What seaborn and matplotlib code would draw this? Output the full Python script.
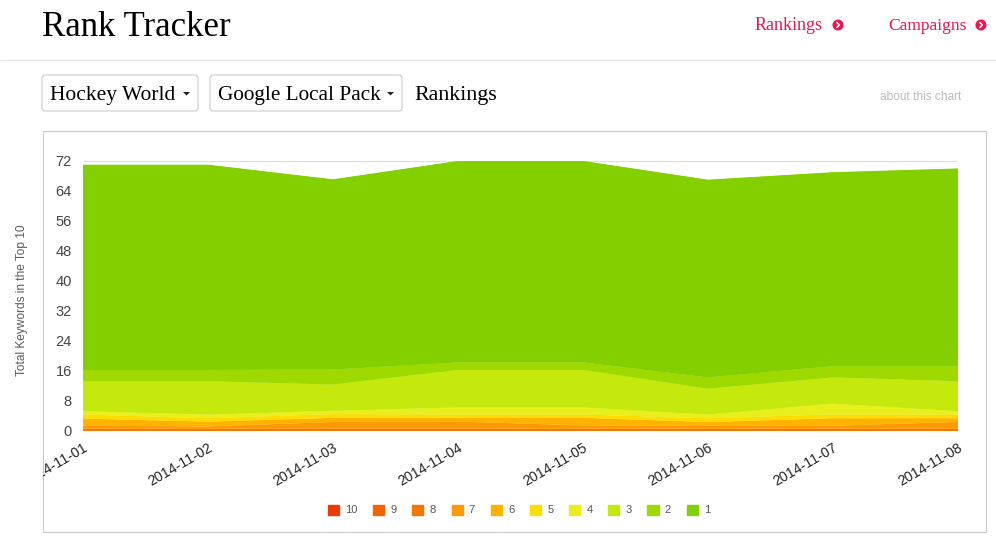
import matplotlib
matplotlib.use("Agg")
import matplotlib.pyplot as plt
from matplotlib.patches import Circle, FancyBboxPatch, Patch, Rectangle, Polygon
from matplotlib.transforms import Bbox
import pandas as pd
import seaborn as sns
import seaborn.objects as so

# values, one list per rank
dates = ["2014-11-01", "2014-11-02", "2014-11-03", "2014-11-04",
         "2014-11-05", "2014-11-06", "2014-11-07", "2014-11-08"]
ranks = ["10", "9", "8", "7", "6", "5", "4", "3", "2", "1"]
rank_10 = [0, 0, 0, 0, 0, 0, 0, 0]
rank_9 = [0, 0, 0, 0, 0, 0, 0, 0]
rank_8 = [0.6, 0.6, 0.6, 0.6, 0.6, 0.6, 0.6, 0.6]
rank_7 = [0.8, 0.6, 1.8, 1.9, 0.9, 0.8, 0.8, 1.8]
rank_6 = [1.9, 1.3, 1.1, 1.0, 2.0, 1.0, 2.0, 1.0]
rank_5 = [1.1, 0.9, 1.0, 0.9, 0.9, 1.0, 1.0, 1.0]
rank_4 = [0.9, 1.0, 0.9, 1.9, 1.9, 1.0, 2.9, 0.9]
rank_3 = [8.0, 8.9, 7.0, 10.0, 10.0, 6.9, 7.0, 8.0]
rank_2 = [3.0, 3.0, 4.0, 2.0, 2.0, 3.0, 3.0, 4.0]
rank_1 = [54.7, 54.7, 50.7, 53.7, 53.7, 52.7, 51.7, 52.7]
y_ticks = [0, 8, 16, 24, 32, 40, 48, 56, 64, 72]
colors = ["#e83c00", "#f56200", "#f77600", "#ff9900", "#ffb300",
          "#ffdd00", "#e8ef1c", "#c6e90d", "#9ed900", "#84cf00"]

series = [rank_10, rank_9, rank_8, rank_7, rank_6, rank_5, rank_4, rank_3, rank_2, rank_1]
df = pd.concat([pd.DataFrame({"date": dates, "rank": r, "count": vals})
                for r, vals in zip(ranks, series)], ignore_index=True)

sns.set_theme(style="white")
plt.rcParams["font.family"] = ["Liberation Sans", "DejaVu Sans"]

W, H = 996, 544
fig = plt.figure(figsize=(W / 100, H / 100), dpi=100, facecolor="white")

# page furniture goes on a full size axes in pixel coordinates
page = fig.add_axes([0, 0, 1, 1], zorder=0)
page.set_xlim(0, W)
page.set_ylim(H, 0)
page.axis("off")

serif = ["Liberation Serif", "DejaVu Serif"]
pink = "#f0134f"


def chevron(x, y):
    page.add_patch(Circle((x, y), 5.5, color=pink, lw=0))
    page.plot([x - 1.2, x + 1.4, x - 1.2], [y - 2.6, y, y + 2.6], color="white", lw=1.1)


def button(x0, x1, label, size):
    page.add_patch(FancyBboxPatch((x0 + 3, 78), x1 - x0 - 6, 30, boxstyle="round,pad=3,rounding_size=3",
                                  fc="white", ec="#c8c8c8", lw=0.75))
    page.text(x0 + 8, 100, label, family=serif, fontsize=size, color="black", va="baseline")
    page.add_patch(Polygon([(x1 - 15, 92), (x1 - 8, 92), (x1 - 11.5, 95.5)], color="#222222", lw=0))


page.text(42, 36, "Rank Tracker", family=serif, fontsize=25, color="black", va="baseline")
page.plot([0, W], [59.5, 59.5], color="#e5e5e5", lw=0.75)
page.text(755, 30, "Rankings", family=serif, fontsize=13, color=pink, va="baseline")
chevron(838, 25)
page.text(888, 30, "Campaigns", family=serif, fontsize=12.6, color=pink, va="baseline")
chevron(981, 25)
button(42, 198, "Hockey World", 15.5)
button(210, 402, "Google Local Pack", 15.3)
page.text(414, 100, "Rankings", family=serif, fontsize=15.8, color="black", va="baseline")
page.text(880, 96.5, "about this chart", fontsize=8.6, color="#bbbbbb", va="center")
page.add_patch(Rectangle((42.5, 130.5), 943, 401, fc="white", ec="#c8c8c8", lw=0.75))
page.text(22, 300, "Total Keywords in the Top 10", fontsize=8.6, color="#5a5a5a",
          rotation=90, ha="center", va="center")

# chart area
px_left, px_right, px_top, px_bottom = 83, 958, 160, 431
ax = fig.add_axes([px_left / W, 1 - px_bottom / H, (px_right - px_left) / W, (px_bottom - px_top) / H], zorder=1)
ax.patch.set_alpha(0)

(
    so.Plot(df, x="date", y="count", color="rank")
    .add(so.Area(alpha=1, edgewidth=0.6, edgealpha=1), so.Stack(), legend=False)
    .scale(color=so.Nominal(colors, order=ranks), x=so.Nominal(order=dates))
    .on(ax)
    .plot()
)

ax.set_xlim(0, len(dates) - 1)
ax.set_ylim(0, 72 + 1 / 3.75)
ax.set_xlabel("")
ax.set_ylabel("")
ax.set_yticks(y_ticks, [str(t) for t in y_ticks])
ax.set_axisbelow(True)
ax.grid(axis="y", color="#dddddd", lw=0.75)
ax.grid(axis="x", visible=False)
for s in ax.spines.values():
    s.set_visible(False)
ax.tick_params(axis="y", length=0, pad=8, labelsize=10.5, labelcolor="#444444")
ax.tick_params(axis="x", length=0, pad=7, labelsize=10.2, labelcolor="#222222")

# first date label is cut off by the chart frame in the original
frame = Bbox.from_extents(43, 0, 986, H)
ax.set_xticks(range(len(dates)), dates)
for lab in ax.get_xticklabels():
    lab.set_rotation(30)
    lab.set_ha("right")
    lab.set_rotation_mode("anchor")
    lab.set_clip_box(frame)
    lab.set_clip_on(True)

handles = [Patch(color=c, label=r) for c, r in zip(colors, ranks)]
fig.legend(handles=handles, ncol=10, frameon=False, loc="center",
           bbox_to_anchor=(519 / W, 1 - 510 / H), fontsize=8, labelcolor="#555555",
           handlelength=1.0, handleheight=1.0, handletextpad=0.55, columnspacing=1.42, borderpad=0)

fig.savefig("out.png", dpi=100)
